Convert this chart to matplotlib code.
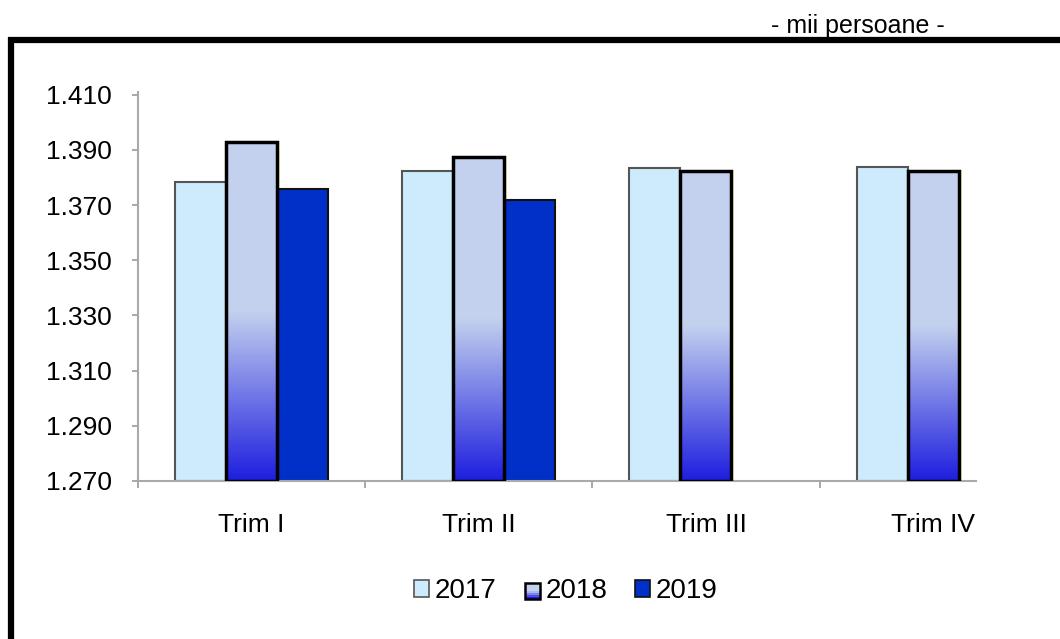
import numpy as np
import matplotlib
matplotlib.use('Agg')
import matplotlib.pyplot as plt
from matplotlib.patches import Rectangle
from matplotlib.legend_handler import HandlerBase
from matplotlib.lines import Line2D
from matplotlib.ticker import FuncFormatter

plt.rcParams['font.family'] = ['Liberation Sans', 'DejaVu Sans']

categories = ['Trim I', 'Trim II', 'Trim III', 'Trim IV']
years = ['2017', '2018', '2019']
v2017 = [1378.5, 1382.5, 1383.4, 1383.8]
v2018 = [1393.0, 1387.6, 1382.5, 1382.5]
v2019 = [1375.9, 1371.7, np.nan, np.nan]
yticks = [1270, 1290, 1310, 1330, 1350, 1370, 1390, 1410]

c2017 = '#cdebfd'
c2018_top = np.array([0xc3, 0xd1, 0xee]) / 255
c2018_bot = np.array([0x1e, 0x1e, 0xdf]) / 255
c2019 = '#0030c8'

size = 1060, 639
dpi = 100.0
fig = plt.figure(figsize=(size[0]/dpi, size[1]/dpi), dpi=dpi)
ax = fig.add_axes([137.7/1060, 1-481/639, (976-137.7)/1060, (481-92)/639])

x = np.arange(len(categories))
w = 0.2247
ymin = 1270


def grad_img(n=200):
    t = np.linspace(0, 1, n)
    f = np.clip(t / 0.5, 0, 1)[:, None]
    return c2018_bot * (1 - f) + c2018_top * f


# soft yellow glow behind 2018 bars
ax.bar(x + 0.012, np.array(v2018) - ymin, w, bottom=ymin, color='#ffff80',
       alpha=0.5, linewidth=0, zorder=1.5)

ax.bar(x - w, np.array(v2017) - ymin, w, bottom=ymin, color=c2017,
       edgecolor='#555555', linewidth=1.5, zorder=2)
ax.bar(x + w, np.array(v2019) - ymin, w, bottom=ymin, color=c2019,
       edgecolor='#111111', linewidth=1.5, zorder=2)

bars18 = ax.bar(x, np.array(v2018) - ymin, w, bottom=ymin, facecolor='none',
                edgecolor='black', linewidth=2.5, zorder=4)
img = grad_img()[:, None, :]
for b, v in zip(bars18, v2018):
    x0 = b.get_x()
    im = ax.imshow(img, extent=(x0, x0 + w, ymin, v), origin='lower',
                   aspect='auto', zorder=3, interpolation='bilinear')
    im.set_clip_path(b)

ax.set_xlim(-0.5, 3.188)
ax.set_ylim(1270, 1411)
ax.set_yticks(yticks)
ax.yaxis.set_major_formatter(FuncFormatter(lambda v, p: '{:,.0f}'.format(v).replace(',', '.')))
ax.set_xticks(np.arange(-0.5, 3.5, 1.0))
ax.set_xticklabels([])
ax.set_xticks(x, minor=True)
ax.set_xticklabels(categories, minor=True)
ax.tick_params(axis='x', which='minor', length=0, pad=23, labelsize=19)
ax.tick_params(axis='x', which='major', length=5, color='#999999', width=1.2)
ax.tick_params(axis='y', length=4.5, color='#999999', width=1.2, labelsize=19, pad=14)
for s in ['top', 'right']:
    ax.spines[s].set_visible(False)
for s in ['left', 'bottom']:
    ax.spines[s].set_color('#aaaaaa')
    ax.spines[s].set_linewidth(1.5)
ax.set_zorder(1)


class GradHandler(HandlerBase):
    def create_artists(self, legend, orig, xd, yd, width, height, fontsize, trans):
        arts = []
        n = 8
        cols = grad_img(n)
        for i in range(n):
            r = Rectangle((xd, yd + height * i / n), width, height / n,
                          facecolor=cols[i], edgecolor='none', transform=trans)
            arts.append(r)
        arts.append(Rectangle((xd, yd), width, height, facecolor='none',
                              edgecolor='black', linewidth=1.8, transform=trans))
        return arts


h17 = Rectangle((0, 0), 1, 1, facecolor=c2017, edgecolor='#555555', linewidth=1.2)
h18 = Rectangle((0, 0), 1, 1)
h19 = Rectangle((0, 0), 1, 1, facecolor=c2019, edgecolor='#111111', linewidth=1.2)
fig.legend([h17, h18, h19], years, loc='center', bbox_to_anchor=(566/1060, 1-591/639),
           ncol=3, frameon=False, fontsize=20, handlelength=0.55, handleheight=0.55,
           handletextpad=0.2, columnspacing=1.0,
           handler_map={h18: GradHandler()})

# outer frame (top and left)
fig.add_artist(Line2D([8/1060, 1.0], [1-40/639, 1-40/639], color='black',
                      linewidth=4.5, solid_capstyle='butt', transform=fig.transFigure))
fig.add_artist(Line2D([11/1060, 11/1060], [0, 1-37/639], color='black',
                      linewidth=4.5, solid_capstyle='butt', transform=fig.transFigure))
fig.text(945/1060, 1-33/639, '- mii persoane -', ha='right', va='baseline', fontsize=18)

fig.savefig('out.png', dpi=dpi)
